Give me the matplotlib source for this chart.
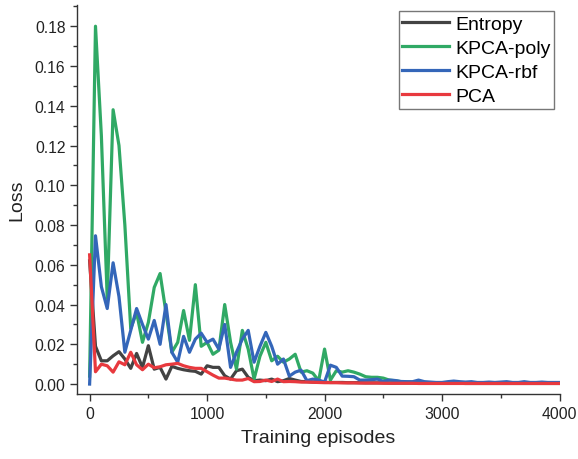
import numpy as np
import matplotlib
matplotlib.use('Agg')
import matplotlib.pyplot as plt
from matplotlib.ticker import MultipleLocator

plt.rcParams['font.family'] = ['Liberation Sans', 'DejaVu Sans']

# episodes sampled every 50
episodes = np.arange(0, 4001, 50)

entropy = [0.062, 0.019, 0.0117, 0.0117, 0.0142, 0.0163, 0.0126, 0.0079, 0.0154, 0.0084,
           0.0193, 0.0075, 0.0084, 0.0025, 0.0089, 0.0079, 0.0072, 0.0067, 0.0064, 0.005,
           0.0092, 0.0084, 0.0084, 0.0042, 0.0025, 0.0067, 0.0075, 0.0034, 0.0017, 0.002,
           0.0017, 0.0025, 0.0012, 0.0017, 0.0028, 0.002, 0.0013, 0.0012, 0.001, 0.0009,
           0.0009, 0.0008, 0.0008, 0.0008, 0.0007, 0.0007, 0.0007, 0.0006, 0.0006, 0.0006,
           0.0006, 0.0005, 0.0005, 0.0005, 0.0005, 0.0005, 0.0004, 0.0004, 0.0004, 0.0004,
           0.0004, 0.0004, 0.0004, 0.0004, 0.0003, 0.0003, 0.0003, 0.0003, 0.0003, 0.0003,
           0.0003, 0.0003, 0.0003, 0.0003, 0.0003, 0.0003, 0.0003, 0.0003, 0.0003, 0.0003,
           0.0003]

kpca_poly = [0.004, 0.180, 0.125, 0.043, 0.138, 0.120, 0.080, 0.028, 0.036, 0.021,
             0.031, 0.0486, 0.0556, 0.036, 0.016, 0.021, 0.037, 0.022, 0.050, 0.019,
             0.021, 0.015, 0.017, 0.040, 0.021, 0.0075, 0.027, 0.0176, 0.0025, 0.014,
             0.021, 0.0117, 0.014, 0.011, 0.0126, 0.015, 0.006, 0.0067, 0.0055, 0.0017,
             0.0176, 0.002, 0.0067, 0.006, 0.0067, 0.006, 0.005, 0.0037, 0.0034, 0.0034,
             0.003, 0.002, 0.0017, 0.0012, 0.001, 0.0009, 0.0009, 0.0008, 0.0007, 0.0007,
             0.0007, 0.0006, 0.0006, 0.0006, 0.0006, 0.0006, 0.0005, 0.0005, 0.0005, 0.0005,
             0.0005, 0.0005, 0.0005, 0.0005, 0.0005, 0.0005, 0.0005, 0.0005, 0.0005, 0.0005,
             0.0005]

kpca_rbf = [0.0, 0.0746, 0.049, 0.038, 0.061, 0.044, 0.016, 0.027, 0.038, 0.030,
            0.0226, 0.032, 0.020, 0.040, 0.016, 0.011, 0.024, 0.016, 0.0226, 0.0256,
            0.021, 0.0226, 0.0176, 0.030, 0.0084, 0.016, 0.0226, 0.027, 0.011, 0.019,
            0.026, 0.019, 0.010, 0.0126, 0.004, 0.006, 0.007, 0.0017, 0.0025, 0.002,
            0.001, 0.0095, 0.0084, 0.004, 0.0039, 0.0037, 0.002, 0.002, 0.0022, 0.0025,
            0.0013, 0.002, 0.0018, 0.0013, 0.0012, 0.0012, 0.002, 0.0012, 0.001, 0.0008,
            0.0008, 0.0012, 0.0015, 0.0012, 0.001, 0.0012, 0.0008, 0.0008, 0.001, 0.0008,
            0.001, 0.0012, 0.0008, 0.0008, 0.0012, 0.0008, 0.0008, 0.001, 0.0008, 0.0008,
            0.0008]

pca = [0.065, 0.0062, 0.010, 0.0092, 0.006, 0.0112, 0.0097, 0.016, 0.0097, 0.0072,
       0.010, 0.0082, 0.0087, 0.0097, 0.010, 0.0104, 0.0092, 0.0084, 0.0079, 0.0079,
       0.0062, 0.0045, 0.003, 0.003, 0.0025, 0.002, 0.002, 0.0028, 0.0012, 0.0013,
       0.002, 0.0013, 0.0025, 0.0012, 0.0013, 0.0012, 0.001, 0.001, 0.0009, 0.0008,
       0.0007, 0.0007, 0.0007, 0.0006, 0.0006, 0.0006, 0.0005, 0.0005, 0.0005, 0.0005,
       0.0004, 0.0004, 0.0004, 0.0004, 0.0004, 0.0004, 0.0003, 0.0003, 0.0003, 0.0003,
       0.0003, 0.0003, 0.0003, 0.0003, 0.0003, 0.0003, 0.0003, 0.0003, 0.0003, 0.0003,
       0.0003, 0.0003, 0.0003, 0.0003, 0.0003, 0.0003, 0.0003, 0.0003, 0.0003, 0.0003,
       0.0003]

series = [('Entropy', entropy, '#434343'),
          ('KPCA-poly', kpca_poly, '#30a965'),
          ('KPCA-rbf', kpca_rbf, '#3466b9'),
          ('PCA', pca, '#e8393e')]

fig = plt.figure(figsize=(5.78, 4.6), dpi=100)
ax = fig.add_axes([0.1337, 0.1413, 0.968 - 0.1337, 0.987 - 0.1413])

for name, vals, col in series:
    ax.plot(episodes, vals, color=col, lw=2.3, label=name)

ax.set_xlim(-105, 4000)
ax.set_ylim(-0.005, 0.1907)
ax.xaxis.set_major_locator(MultipleLocator(1000))
ax.xaxis.set_minor_locator(MultipleLocator(500))
ax.yaxis.set_major_locator(MultipleLocator(0.02))
ax.yaxis.set_minor_locator(MultipleLocator(0.01))
ax.yaxis.set_major_formatter(plt.FormatStrFormatter('%.2f'))

ax.spines['top'].set_visible(False)
ax.spines['right'].set_visible(False)
for s in ['left', 'bottom']:
    ax.spines[s].set_color('#333333')
    ax.spines[s].set_linewidth(1.0)
ax.tick_params(which='major', direction='out', length=5, width=1.0, color='#333333',
               labelsize=11.3, labelcolor='#222222')
ax.tick_params(which='minor', direction='out', length=3, width=1.0, color='#333333')

ax.set_xlabel('Training episodes', fontsize=14, color='#222222', labelpad=6)
ax.set_ylabel('Loss', fontsize=14, color='#222222', labelpad=7)

leg = ax.legend(loc='upper right', fontsize=14, frameon=True, fancybox=False,
                bbox_to_anchor=(0.989, 0.984), borderaxespad=0.0, borderpad=0.2,
                handlelength=2.4, handletextpad=0.3, labelspacing=0.33)
leg.get_frame().set_edgecolor('#555555')
leg.get_frame().set_linewidth(1.0)

fig.savefig('out.png', dpi=100)
